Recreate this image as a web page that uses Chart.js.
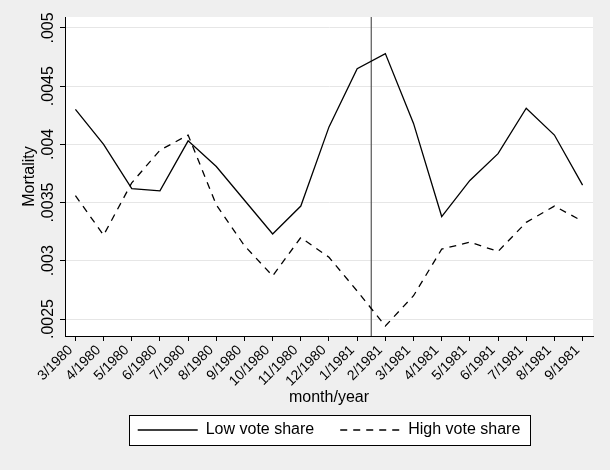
<!DOCTYPE html>
<html>
<head>
<meta charset="utf-8">
<script src="https://cdn.jsdelivr.net/npm/chart.js@4.4.1/dist/chart.umd.min.js"></script>
<style>
  html, body { margin: 0; padding: 0; background: #efefef; }
</style>
</head>
<body>
<canvas id="myChart" width="610" height="470"></canvas>
<script>
const months = ['3/1980', '4/1980', '5/1980', '6/1980', '7/1980', '8/1980', '9/1980', '10/1980', '11/1980', '12/1980',
                '1/1981', '2/1981', '3/1981', '4/1981', '5/1981', '6/1981', '7/1981', '8/1981', '9/1981'];
const lowShare = [0.00430, 0.00400, 0.00362, 0.00360, 0.00403, 0.00381, 0.00352, 0.00323, 0.00347, 0.00415,
                  0.00465, 0.00478, 0.00418, 0.00338, 0.00369, 0.00392, 0.00431, 0.00408, 0.00365];
const highShare = [0.00356, 0.00322, 0.00367, 0.00395, 0.00408, 0.00348, 0.00313, 0.00287, 0.00320, 0.00303,
                   0.00274, 0.00244, 0.00270, 0.00310, 0.00316, 0.00308, 0.00333, 0.00347, 0.00334];
const yTicks = [0.0025, 0.003, 0.0035, 0.004, 0.0045, 0.005];
const yTickLabels = ['.0025', '.003', '.0035', '.004', '.0045', '.005'];
const yMin = 0.002354;
const yMax = 0.005094;
const splitAt = 10.5; // between 1/1981 and 2/1981

Chart.defaults.font.family = "'Liberation Sans', Arial, Helvetica, sans-serif";
Chart.defaults.color = '#000';

// gray page, white plot region, framed legend
const background = {
    id: 'background',
    beforeDraw(chart) {
        const ctx = chart.ctx;
        const a = chart.chartArea;
        ctx.save();
        ctx.fillStyle = '#efefef';
        ctx.fillRect(0, 0, chart.width, chart.height);
        ctx.fillStyle = '#ffffff';
        ctx.fillRect(a.left, a.top, a.right - a.left, a.bottom - a.top);
        const boxes = chart.legend.legendHitBoxes;
        if (boxes && boxes.length) {
            const first = boxes[0];
            const last = boxes[boxes.length - 1];
            const cy = first.top + first.height / 2;
            const left = Math.round(first.left - 9);
            const right = Math.round(last.left + last.width + 10);
            const top = Math.round(cy - 15);
            ctx.fillRect(left, top, right - left, 30);
            ctx.strokeStyle = '#000';
            ctx.lineWidth = 1;
            ctx.strokeRect(left + 0.5, top + 0.5, right - left, 30);
        }
        ctx.restore();
    }
};

const ctx = document.getElementById('myChart').getContext('2d');
const myChart = new Chart(ctx, {
    type: 'line',
    data: {
        datasets: [
            {
                label: 'Low vote share',
                data: months.map((m, i) => ({x: i, y: lowShare[i]})),
                borderColor: '#000',
                borderWidth: 1.3,
                pointRadius: 0,
                tension: 0
            },
            {
                label: 'High vote share',
                data: months.map((m, i) => ({x: i, y: highShare[i]})),
                borderColor: '#000',
                borderWidth: 1.3,
                borderDash: [7, 6],
                pointRadius: 0,
                tension: 0
            },
            {
                label: 'split',
                data: [{x: splitAt, y: yMin}, {x: splitAt, y: yMax}],
                borderColor: '#555',
                borderWidth: 1.2,
                pointRadius: 0
            }
        ]
    },
    options: {
        responsive: false,
        animation: false,
        layout: {
            padding: {top: 17, right: 17, bottom: 22, left: 0}
        },
        plugins: {
            tooltip: {enabled: false},
            legend: {
                position: 'bottom',
                fullSize: false,
                labels: {
                    usePointStyle: true,
                    pointStyle: 'line',
                    pointStyleWidth: 60,
                    padding: 26,
                    color: '#000',
                    font: {size: 16},
                    filter: item => item.datasetIndex < 2,
                    // point-style items lose the dash, so copy it from the dataset
                    generateLabels: chart => Chart.defaults.plugins.legend.labels.generateLabels(chart).map(item => {
                        const ds = chart.data.datasets[item.datasetIndex];
                        item.lineDash = ds.borderDash || [];
                        item.lineWidth = ds.borderWidth;
                        item.strokeStyle = ds.borderColor;
                        return item;
                    })
                }
            }
        },
        scales: {
            x: {
                type: 'linear',
                min: -0.37,
                max: 18.37,
                afterBuildTicks: s => { s.ticks = months.map((m, i) => ({value: i})); },
                afterFit: s => { s.height = 60; },
                ticks: {
                    autoSkip: false,
                    minRotation: 45,
                    maxRotation: 45,
                    padding: 1,
                    labelOffset: -5,
                    color: '#000',
                    font: {size: 14},
                    callback: (v, i) => months[i]
                },
                grid: {
                    drawOnChartArea: false,
                    tickLength: 5,
                    tickColor: '#000'
                },
                border: {color: '#000', width: 1},
                title: {
                    display: true,
                    text: 'month/year',
                    color: '#000',
                    font: {size: 16},
                    padding: {top: 0, bottom: -11}
                }
            },
            y: {
                min: yMin,
                max: yMax,
                afterBuildTicks: s => { s.ticks = yTicks.map(v => ({value: v})); },
                afterFit: s => { s.width = 65; },
                ticks: {
                    autoSkip: false,
                    minRotation: 90,
                    maxRotation: 90,
                    crossAlign: 'center',
                    padding: -9,
                    color: '#000',
                    font: {size: 16},
                    callback: (v, i) => yTickLabels[i]
                },
                grid: {
                    color: '#e6e6e6',
                    tickLength: 5,
                    tickColor: '#000'
                },
                border: {color: '#000', width: 1},
                title: {
                    display: true,
                    text: 'Mortality',
                    color: '#000',
                    font: {size: 16},
                    padding: {top: 20, bottom: 0}
                }
            }
        }
    },
    plugins: [background]
});
</script>
</body>
</html>
